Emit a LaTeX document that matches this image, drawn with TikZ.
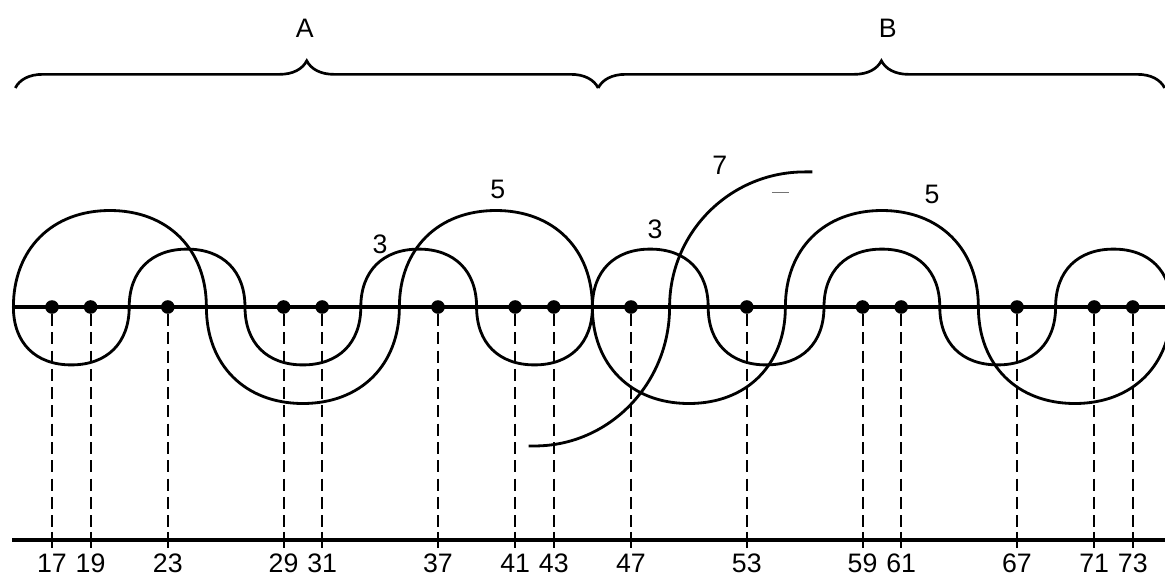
\documentclass[tikz,border=0pt]{standalone}
\usepackage{fontspec}
\setmainfont{Liberation Sans}
\usepackage{tikz}
\usetikzlibrary{positioning, decorations.pathreplacing}
\tikzset{
  axis/.style={line width=2.3pt},
  wave/.style={line width=2pt},
  prime/.style={circle, fill, inner sep=0pt, minimum size=0.34cm},
  guide/.style={line width=1.3pt, dash pattern=on 8.5pt off 4.5pt},
  tick/.style={line width=1.5pt},
  num/.style={font=\fontsize{19}{19}\selectfont, inner sep=1pt},
  brc/.style={decorate, decoration={brace, amplitude=0.68cm}, line width=1.9pt}
}

\begin{document}
\begin{tikzpicture}[x=0.4825cm, y=0.4825cm]
  \useasboundingbox (14.306,-14.249) rectangle (74.67,15.907);

  % braces A and B
  \coordinate (bl) at (15.1,11.35);
  \coordinate (bm) at (45.3,11.35);
  \coordinate (br) at (74.65,11.35);
  \draw[brc] (bl) -- (bm);
  \draw[brc] (bm) -- (br);
  \node[num] (labA) at (30.1,14.46) {A};
  \node[num] (labB) at (60.3,14.46) {B};

  % number line and lower scale
  \draw[axis] (15,0) -- (74.67,0);
  \draw[axis] (14.95,-12.07) -- (74.67,-12.07);

  % waves of 3 and 5
  \draw[wave] (15,0)
    \foreach \k [evaluate=\k as \a using {15+6*(\k-1)},
                 evaluate=\k as \s using {3*(1-2*mod(\k,2))}] in {1,...,10} {
      .. controls ({\a},{0.62*(\s)}) and ({\a+3-0.62*3},{\s}) .. ({\a+3},{\s})
      .. controls ({\a+3+0.62*3},{\s}) and ({\a+6},{0.62*(\s)}) .. ({\a+6},0)
    };
  \draw[wave] (15,0)
    \foreach \k [evaluate=\k as \a using {15+10*(\k-1)},
                 evaluate=\k as \s using {-5*(1-2*mod(\k,2))}] in {1,...,6} {
      .. controls ({\a},{0.6*(\s)}) and ({\a+5-0.6*5},{\s}) .. ({\a+5},{\s})
      .. controls ({\a+5+0.6*5},{\s}) and ({\a+10},{0.6*(\s)}) .. ({\a+10},0)
    };
  % part of the wave of 7
  \draw[wave] (41.7,-7.2) -- (42,-7.2)
    arc[start angle=270, end angle=360, x radius=7, y radius=7.2]
    arc[start angle=180, end angle=90, radius=7] -- (56.4,7);
  \draw[line width=0.8pt, black!55] (54.3,5.95) -- (55.2,5.95);

  % wave labels
  \node[num] (w3a) at (34.0,3.25) {3};
  \node[num] (w5a) at (40.1,6.1) {5};
  \node[num] (w3b) at (48.25,4.05) {3};
  \node[num] (w7) at (51.6,7.35) {7};
  \node[num] (w5b) at (62.6,5.85) {5};

  % primes
  \foreach \n in {17,19,23,29,31,37,41,43,47,53,59,61,67,71,73} {
    \node[prime] (p\n) at (\n,0) {};
    \coordinate (t\n) at (\n,-12.07);
    \draw[guide] (p\n.south) -- (t\n);
    \draw[tick] (\n,-11.65) -- (\n,-12.5);
    \node[num] (l\n) at (\n,-13.3) {\n};
  }
\end{tikzpicture}
\end{document}
